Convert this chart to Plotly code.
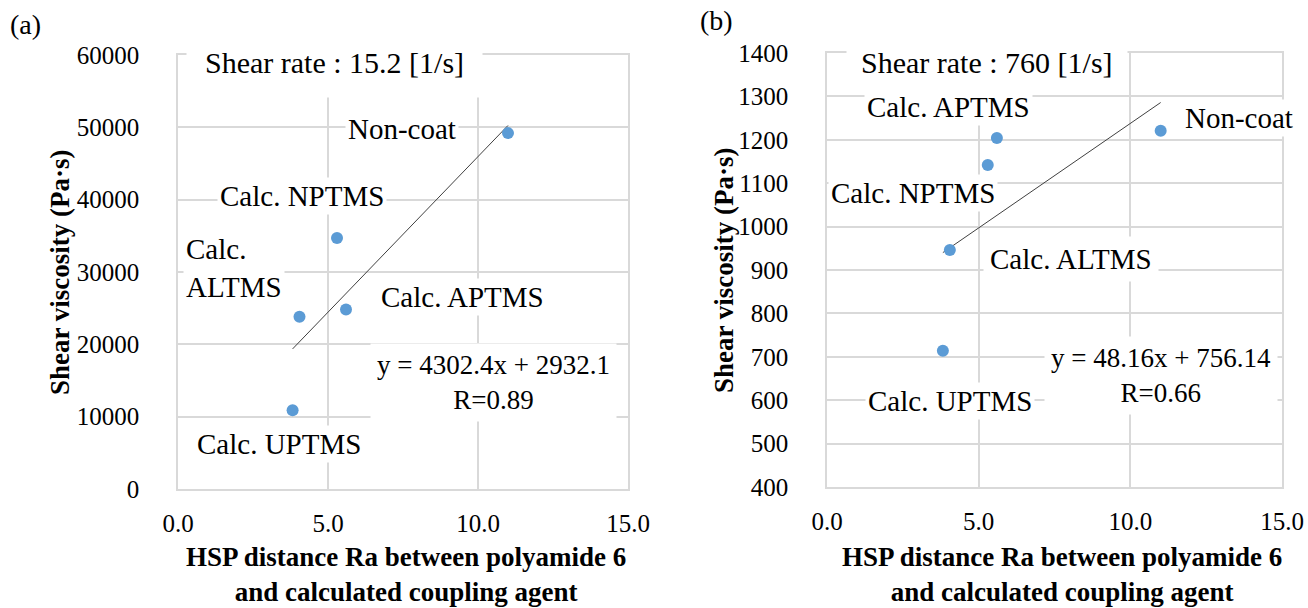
import plotly.graph_objects as go

# ---- data ----
samples = ["Non-coat", "Calc. APTMS", "Calc. NPTMS", "Calc. ALTMS", "Calc. UPTMS"]
hsp_ra = [11.0, 5.6, 5.3, 4.05, 3.82]
visc_15_2 = [49200, 24800, 34700, 23800, 10900]   # Pa·s at 15.2 1/s
visc_760 = [1221, 1204, 1142, 946, 714]           # Pa·s at 760 1/s
fit_a = (4302.4, 2932.1)   # slope, intercept (a)
fit_b = (48.16, 756.14)    # slope, intercept (b)
x_ticks = [0, 5, 10, 15]
y_ticks_a = [0, 10000, 20000, 30000, 40000, 50000, 60000]
y_ticks_b = [400, 500, 600, 700, 800, 900, 1000, 1100, 1200, 1300, 1400]

FONT = "Liberation Serif"
BLUE = "#5B9BD5"
GRID = "#D9D9D9"

fig = go.Figure()

def add_panel(xref, yref, yvals, fit):
    xmin, xmax = min(hsp_ra), max(hsp_ra)
    fig.add_trace(go.Scatter(
        x=[xmin, xmax], y=[fit[0] * xmin + fit[1], fit[0] * xmax + fit[1]],
        mode="lines", line=dict(color="#404040", width=1),
        xaxis=xref, yaxis=yref, showlegend=False, hoverinfo="skip"))
    fig.add_trace(go.Scatter(
        x=hsp_ra, y=yvals, mode="markers", text=samples,
        marker=dict(color=BLUE, size=12),
        xaxis=xref, yaxis=yref, showlegend=False))

add_panel("x", "y", visc_15_2, fit_a)
add_panel("x2", "y2", visc_760, fit_b)

W, H = 1308, 608
axis_common = dict(
    showgrid=True, gridcolor=GRID, gridwidth=1.5,
    showline=True, linecolor=GRID, linewidth=1.5, mirror=True,
    zeroline=False, ticks="", automargin=False,
    tickfont=dict(family=FONT, size=25, color="black"),
)

fig.update_layout(
    template="none",
    width=W, height=H, autosize=False,
    margin=dict(l=0, r=0, t=0, b=0, pad=0),
    paper_bgcolor="white", plot_bgcolor="white",
    font=dict(family=FONT, color="black"),
    xaxis=dict(domain=[178 / W, 628 / W], range=[0, 15], tickvals=x_ticks,
               tickformat=".1f", ticklabelstandoff=11, anchor="y", **axis_common),
    yaxis=dict(domain=[1 - 489 / H, 1 - 55 / H], range=[0, 60000], tickvals=y_ticks_a,
               tickformat="d", ticklabelstandoff=32, anchor="x", **axis_common),
    xaxis2=dict(domain=[827 / W, 1282 / W], range=[0, 15], tickvals=x_ticks,
                tickformat=".1f", ticklabelstandoff=11, anchor="y2", **axis_common),
    yaxis2=dict(domain=[1 - 487 / H, 1 - 53 / H], range=[400, 1400], tickvals=y_ticks_b,
                tickformat="d", ticklabelstandoff=32, anchor="x2", **axis_common),
)

LBL = 29
def lab(text, x, y, xr, yr, size=LBL, xanchor="center", align="center", pad=2):
    fig.add_annotation(text=text, x=x, y=y, xref=xr, yref=yr, showarrow=False,
                       xanchor=xanchor, yanchor="middle", align=align,
                       bgcolor="white", borderpad=pad,
                       font=dict(family=FONT, size=size, color="black"))

# panel (a)
lab("Shear rate : 15.2 [1/s]", 5.2, 59030, "x", "y", size=30, pad=18)
lab("Non-coat", 7.47, 49770, "x", "y")
lab("Calc. NPTMS", 4.12, 40500, "x", "y")
lab("Calc.<br>ALTMS", 0.17, 30550, "x", "y", xanchor="left", align="left")
lab("Calc. APTMS", 9.47, 26540, "x", "y")
lab("Calc. UPTMS", 3.36, 6220, "x", "y")
lab("y = 4302.4x + 2932.1<br>R=0.89", 10.53, 14790, "x", "y", size=27, pad=6)

# panel (b)
lab("Shear rate : 760 [1/s]", 5.28, 1379, "x2", "y2", size=30, pad=14)
lab("Calc. APTMS", 4.0, 1275, "x2", "y2")
lab("Non-coat", 13.58, 1251, "x2", "y2")
lab("Calc. NPTMS", 2.84, 1078, "x2", "y2")
lab("Calc. ALTMS", 8.05, 925, "x2", "y2", pad=6)
lab("Calc. UPTMS", 4.06, 598, "x2", "y2")
lab("y = 48.16x + 756.14<br>R=0.66", 11.01, 657, "x2", "y2", size=27, pad=6)

def paper(text, px, py, size, bold=False, angle=0):
    fig.add_annotation(text=f"<b>{text}</b>" if bold else text,
                       x=px / W, y=1 - py / H, xref="paper", yref="paper",
                       showarrow=False, xanchor="center", yanchor="middle",
                       textangle=angle,
                       font=dict(family=FONT, size=size, color="black"))

paper("(a)", 25, 24, 28)
paper("(b)", 716, 21, 28)
xt = "HSP distance Ra between polyamide 6<br>and calculated coupling agent"
paper(xt, 406, 574, 27, bold=True)
paper(xt, 1062, 574, 27, bold=True)
paper("Shear viscosity (Pa·s)", 60, 272, 27, bold=True, angle=-90)
paper("Shear viscosity (Pa·s)", 724, 270, 27, bold=True, angle=-90)

fig.write_html("out.html")
